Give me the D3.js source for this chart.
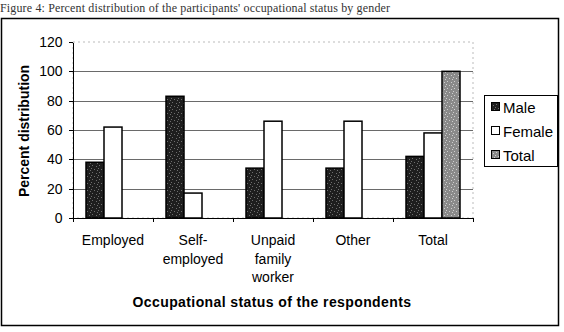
<!DOCTYPE html>
<meta charset="utf-8">
<style type="text/css">
body { margin: 0; background: #fff; }
.grid line { stroke: #6a6a6a; stroke-width: 1; }
.axis path, .axis line { stroke: #000; shape-rendering: crispEdges; }
.axis text { font-family: "Liberation Sans", Arial, sans-serif; font-size: 14px; fill: #000; }
.label { font-family: "Liberation Sans", Arial, sans-serif; font-size: 14px; fill: #000; }
.title { font-weight: bold; }
</style>
<body>
<script src="https://d3js.org/d3.v7.min.js"></script>
<script>

// chart data
var categories = ["Employed", "Self-employed", "Unpaid family worker", "Other", "Total"];
var categoryLines = [["Employed"], ["Self-", "employed"], ["Unpaid", "family", "worker"], ["Other"], ["Total"]];
var series = ["Male", "Female", "Total"];
var male = [38, 83, 34, 34, 42];
var female = [62, 17, 66, 66, 58];
var total = [null, null, null, null, 100];
var yTicks = [0, 20, 40, 60, 80, 100, 120];

var width = 564, height = 332;
var plot = {left: 73, right: 473, top: 42, bottom: 218};

var svg = d3.select("body").append("svg")
    .attr("width", width)
    .attr("height", height);

// speckle textures for the filled bars
var defs = svg.append("defs");
function speckle(id, base, dot) {
  var p = defs.append("pattern")
      .attr("id", id)
      .attr("width", 7).attr("height", 7)
      .attr("patternUnits", "userSpaceOnUse");
  p.append("rect").attr("width", 7).attr("height", 7).attr("fill", base);
  [[0, 1], [4, 0], [5, 4], [2, 5], [3, 2]].forEach(function(d) {
    p.append("rect").attr("x", d[0]).attr("y", d[1])
      .attr("width", 1).attr("height", 1).attr("fill", dot);
  });
}
speckle("maleFill", "#1e1e1e", "#6e6e6e");
speckle("totalFill", "#8a8a8a", "#cfcfcf");
var fills = {"Male": "url(#maleFill)", "Female": "#fff", "Total": "url(#totalFill)"};

// outer frame
svg.append("rect")
    .attr("x", 1.5).attr("y", 18.5)
    .attr("width", 557).attr("height", 307)
    .attr("fill", "none").attr("stroke", "#000").attr("stroke-width", 1.5);

// caption above the frame
svg.append("text")
    .attr("x", 0).attr("y", 12)
    .attr("textLength", 390)
    .style("font-family", "'Liberation Serif', serif")
    .style("font-size", "12px")
    .style("fill", "#333")
    .text("Figure 4: Percent distribution of the participants' occupational status by gender");

var xScale = d3.scaleBand()
    .domain(categories)
    .range([plot.left, plot.right]);

var xSub = d3.scaleBand()
    .domain(series)
    .range([13, 67]);

var yScale = d3.scaleLinear()
    .domain([0, 120])
    .range([plot.bottom, plot.top]);

// plot area border (light, dotted like the scan)
svg.append("rect")
    .attr("x", plot.left).attr("y", plot.top)
    .attr("width", plot.right - plot.left).attr("height", plot.bottom - plot.top)
    .attr("fill", "none").attr("stroke", "#bbb").attr("stroke-dasharray", "2,3");

// gridlines
svg.append("g")
    .attr("class", "grid")
    .selectAll("line")
    .data(yTicks.filter(function(d) { return d > 0 && d < 120; }))
  .enter().append("line")
    .attr("x1", plot.left).attr("x2", plot.right)
    .attr("y1", function(d) { return Math.round(yScale(d)) + 0.5; })
    .attr("y2", function(d) { return Math.round(yScale(d)) + 0.5; });

// bars
var rows = categories.map(function(c, i) {
  return {cat: c, values: [male[i], female[i], total[i]]};
});

var groups = svg.selectAll(".group")
    .data(rows)
  .enter().append("g")
    .attr("class", "group")
    .attr("transform", function(d) { return "translate(" + xScale(d.cat) + ",0)"; });

groups.selectAll("rect")
    .data(function(d) {
      return series.map(function(s, j) { return {key: s, value: d.values[j]}; })
        .filter(function(e) { return e.value != null; });
    })
  .enter().append("rect")
    .attr("x", function(d) { return xSub(d.key); })
    .attr("width", xSub.bandwidth())
    .attr("y", function(d) { return yScale(d.value); })
    .attr("height", function(d) { return yScale(0) - yScale(d.value); })
    .attr("fill", function(d) { return fills[d.key]; })
    .attr("stroke", "#000")
    .attr("stroke-width", 1.5);

// y axis
svg.append("g")
    .attr("class", "axis")
    .attr("transform", "translate(" + (plot.left - 0.5) + ",0)")
    .call(d3.axisLeft(yScale).tickValues(yTicks).tickSize(4).tickPadding(6).tickSizeOuter(0));

// x axis line with tick marks at category boundaries
var xAxis = svg.append("g").attr("class", "axis");
xAxis.append("line")
    .attr("x1", plot.left).attr("x2", plot.right)
    .attr("y1", plot.bottom + 0.5).attr("y2", plot.bottom + 0.5);
xAxis.selectAll(".tick")
    .data(categories.concat(["end"]))
  .enter().append("line")
    .attr("x1", function(d, i) { return Math.round(plot.left + i * xScale.step()) + 0.5; })
    .attr("x2", function(d, i) { return Math.round(plot.left + i * xScale.step()) + 0.5; })
    .attr("y1", plot.bottom).attr("y2", plot.bottom + 4);

// category labels
svg.selectAll(".catlabel")
    .data(categories)
  .enter().append("text")
    .attr("class", "label")
    .attr("text-anchor", "middle")
    .attr("x", function(d) { return xScale(d) + xScale.bandwidth() / 2; })
    .attr("y", 245)
    .each(function(d, i) {
      var t = d3.select(this);
      categoryLines[i].forEach(function(line, k) {
        t.append("tspan")
          .attr("x", xScale(d) + xScale.bandwidth() / 2)
          .attr("dy", k === 0 ? 0 : 18.5)
          .text(line);
      });
    });

// x axis title
svg.append("text")
    .attr("class", "label title")
    .attr("x", 272).attr("y", 307)
    .attr("text-anchor", "middle")
    .style("letter-spacing", "0.4px")
    .text("Occupational status of the respondents");

// y axis title
svg.append("text")
    .attr("class", "label title")
    .attr("transform", "translate(29,131) rotate(-90)")
    .attr("text-anchor", "middle")
    .text("Percent distribution");

// legend
var legend = svg.append("g").attr("transform", "translate(484,95)");
legend.append("rect")
    .attr("x", 0.5).attr("y", 0.5)
    .attr("width", 73).attr("height", 71)
    .attr("fill", "#fff").attr("stroke", "#000");
var items = legend.selectAll(".item")
    .data(series)
  .enter().append("g")
    .attr("transform", function(d, i) { return "translate(7," + (12 + i * 24) + ")"; });
items.append("rect")
    .attr("x", 0.5).attr("y", -4.5)
    .attr("width", 8).attr("height", 8)
    .attr("fill", function(d) { return fills[d]; })
    .attr("stroke", "#000");
items.append("text")
    .attr("class", "label")
    .attr("x", 12).attr("y", 5.5)
    .style("font-size", "15px")
    .text(function(d) { return d; });

</script>
</body>
